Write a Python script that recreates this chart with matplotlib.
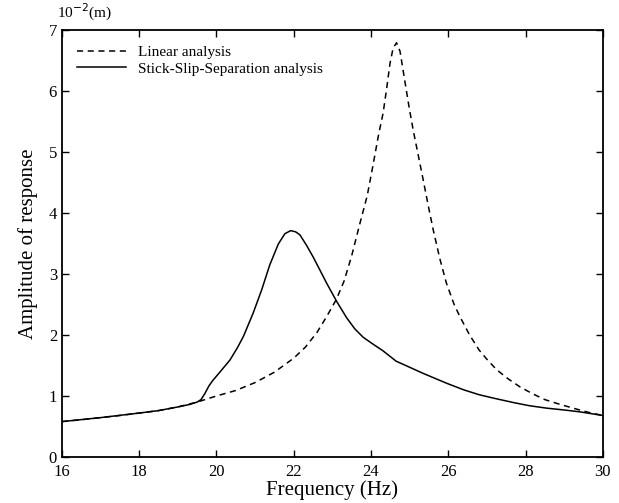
import matplotlib
matplotlib.use("Agg")
import matplotlib.pyplot as plt

# frequency (Hz) / amplitude (1e-2 m)
freq_linear = [16, 16.5, 17, 17.5, 18, 18.5, 19, 19.5, 20, 20.5, 21, 21.5, 22, 22.3,
               22.6, 22.85, 23.1, 23.3, 23.5, 23.7, 23.9, 24.05, 24.2, 24.31, 24.4,
               24.49, 24.57, 24.66, 24.75, 24.87, 24.98, 25.09, 25.22, 25.35, 25.48,
               25.61, 25.78, 25.95, 26.15, 26.3, 26.55, 26.8, 27.0, 27.25, 27.55,
               27.85, 28.2, 28.5, 28.9, 29.4, 29.7, 30]
amp_linear = [0.58, 0.61, 0.645, 0.68, 0.72, 0.76, 0.82, 0.9, 1.0, 1.09, 1.22, 1.39,
              1.62, 1.8, 2.04, 2.3, 2.58, 2.88, 3.3, 3.80, 4.28, 4.78, 5.3, 5.63,
              6.02, 6.45, 6.7, 6.79, 6.65, 6.18, 5.75, 5.36, 4.95, 4.54, 4.12, 3.72,
              3.25, 2.85, 2.5, 2.3, 2.0, 1.75, 1.6, 1.43, 1.28, 1.15, 1.03, 0.94,
              0.86, 0.77, 0.72, 0.68]

freq_sss = [16, 17, 18, 18.5, 19, 19.3, 19.5, 19.6, 19.7, 19.8, 19.9, 20.1, 20.35,
            20.55, 20.7, 20.95, 21.17, 21.38, 21.6, 21.77, 21.92, 22.05, 22.16,
            22.33, 22.5, 22.68, 22.85, 23.11, 23.37, 23.58, 23.8, 24.05, 24.31,
            24.65, 25.0, 25.35, 25.95, 26.4, 26.8, 27.2, 27.7, 28.1, 28.55, 29.0,
            29.4, 29.7, 30]
amp_sss = [0.58, 0.645, 0.72, 0.76, 0.82, 0.86, 0.9, 0.94, 1.04, 1.16, 1.25, 1.40,
           1.59, 1.8, 1.98, 2.36, 2.74, 3.15, 3.49, 3.66, 3.71, 3.69, 3.64, 3.47,
           3.28, 3.06, 2.85, 2.55, 2.28, 2.10, 1.96, 1.85, 1.74, 1.57, 1.47, 1.37,
           1.21, 1.10, 1.02, 0.96, 0.89, 0.84, 0.80, 0.77, 0.74, 0.71, 0.68]

plt.rcParams["font.family"] = ["Liberation Serif", "DejaVu Serif"]

fig = plt.figure(figsize=(6.19, 5.03), dpi=100)
ax = fig.add_axes([0.100, 0.0915, 0.874, 0.849])

ax.plot(freq_linear, amp_linear, "k--", lw=1.1, dashes=(4, 3), label="Linear analysis")
ax.plot(freq_sss, amp_sss, "k-", lw=1.1, label="Stick-Slip-Separation analysis")

ax.set_xlim(16, 30)
ax.set_ylim(0, 7)
ax.set_xticks(range(16, 31, 2))
ax.set_yticks(range(0, 8))
ax.tick_params(direction="in", top=True, right=True, labelsize=12, length=5, width=1)
ax.tick_params(axis="x", pad=5)
for s in ax.spines.values():
    s.set_linewidth(1.3)

ax.set_xlabel("Frequency (Hz)", fontsize=15, labelpad=0)
ax.set_ylabel("Amplitude of response", fontsize=15, labelpad=8)
fig.text(0.092, 0.955, r"10$^{-2}$(m)", fontsize=11, ha="left", va="bottom")

leg = ax.legend(loc="upper left", frameon=False, fontsize=11, handlelength=3.2,
                borderaxespad=0.6, labelspacing=0.2)

fig.savefig("out.png", dpi=100)
